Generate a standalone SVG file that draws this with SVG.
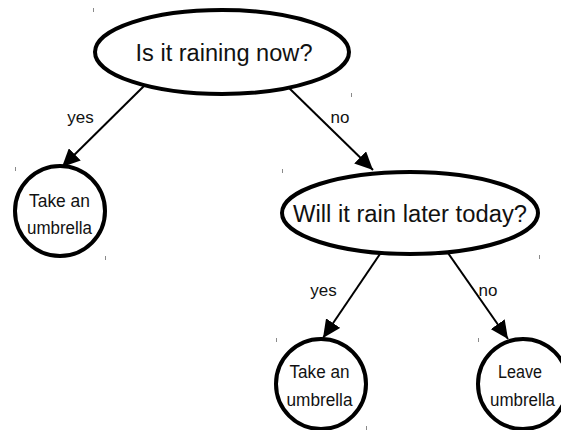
<svg xmlns="http://www.w3.org/2000/svg" width="561" height="430" viewBox="0 0 561 430">
  <style>
    .node { fill: #ffffff; stroke: #000000; stroke-width: 4; }
    .q { font-family: "Liberation Sans", Arial, sans-serif; font-size: 23px; fill: #111; text-anchor: middle; }
    .leaf { font-family: "Liberation Sans", Arial, sans-serif; font-size: 17.5px; fill: #111; text-anchor: middle; }
    .lbl { font-family: "Liberation Sans", Arial, sans-serif; font-size: 17px; fill: #111; text-anchor: middle; }
    .edge { stroke: #000000; stroke-width: 2; fill: none; marker-end: url(#arrow); }
    .tick { stroke: #8a8a8a; stroke-width: 1; }
  </style>
  <defs>
    <marker id="arrow" markerUnits="userSpaceOnUse" markerWidth="19" markerHeight="17" refX="18" refY="8.5" orient="auto">
      <path d="M0,0 L18,8.5 L0,17 Z" fill="#000000"/>
    </marker>
  </defs>
  <rect width="561" height="430" fill="#ffffff"/>

  <!-- small corner marks around the node boxes -->
  <g id="marks">
    <line class="tick" x1="93.5" y1="8" x2="93.5" y2="12"/>
    <line class="tick" x1="351.5" y1="93" x2="351.5" y2="97"/>
    <line class="tick" x1="15.5" y1="167" x2="15.5" y2="171"/>
    <line class="tick" x1="105.5" y1="256" x2="105.5" y2="260"/>
    <line class="tick" x1="282.5" y1="169" x2="282.5" y2="173"/>
    <line class="tick" x1="539.5" y1="255" x2="539.5" y2="259"/>
    <line class="tick" x1="276.5" y1="338" x2="276.5" y2="342"/>
    <line class="tick" x1="366.5" y1="426" x2="366.5" y2="430"/>
    <line class="tick" x1="478.5" y1="338" x2="478.5" y2="342"/>
  </g>

  <!-- connectors -->
  <g id="connectors">
    <line class="edge" x1="145" y1="85" x2="62" y2="167"/>
    <line class="edge" x1="288" y1="87" x2="373" y2="170"/>
    <line class="edge" x1="380" y1="254" x2="323" y2="338"/>
    <line class="edge" x1="448" y1="253" x2="508" y2="339"/>
    <text class="lbl" x="80.5" y="123">yes</text>
    <text class="lbl" x="340" y="123">no</text>
    <text class="lbl" x="323.5" y="296">yes</text>
    <text class="lbl" x="488" y="296">no</text>
  </g>

  <g id="raining-now">
    <ellipse class="node" cx="222" cy="52" rx="127" ry="42"/>
    <text class="q" x="224" y="61" textLength="177" lengthAdjust="spacingAndGlyphs">Is it raining now?</text>
  </g>

  <g id="take-umbrella-1">
    <circle class="node" cx="60" cy="211" r="45"/>
    <text class="leaf" x="59.5" y="207" textLength="61" lengthAdjust="spacingAndGlyphs">Take an</text>
    <text class="leaf" x="59.5" y="234" textLength="65" lengthAdjust="spacingAndGlyphs">umbrella</text>
  </g>

  <g id="rain-later">
    <ellipse class="node" cx="410" cy="213" rx="128" ry="41"/>
    <text class="q" x="410" y="222" textLength="234" lengthAdjust="spacingAndGlyphs">Will it rain later today?</text>
  </g>

  <g id="take-umbrella-2">
    <circle class="node" cx="321" cy="384" r="45"/>
    <text class="leaf" x="319.5" y="378" textLength="60" lengthAdjust="spacingAndGlyphs">Take an</text>
    <text class="leaf" x="319.5" y="406" textLength="66" lengthAdjust="spacingAndGlyphs">umbrella</text>
  </g>

  <g id="leave-umbrella">
    <circle class="node" cx="523" cy="384" r="45"/>
    <text class="leaf" x="520" y="378" textLength="44" lengthAdjust="spacingAndGlyphs">Leave</text>
    <text class="leaf" x="522.5" y="406" textLength="65" lengthAdjust="spacingAndGlyphs">umbrella</text>
  </g>
</svg>
